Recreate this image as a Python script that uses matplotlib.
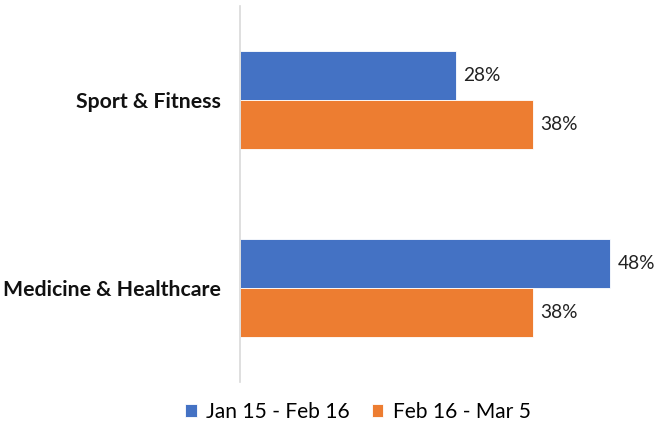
import matplotlib
matplotlib.use('Agg')
import matplotlib.pyplot as plt
import numpy as np

plt.rcParams['font.family'] = ['Lato', 'DejaVu Sans']

categories = ['Sport & Fitness', 'Medicine & Healthcare']
series_names = ['Jan 15 - Feb 16', 'Feb 16 - Mar 5']
jan_feb = [28, 48]
feb_mar = [38, 38]
colors = ['#4472C4', '#ED7D31']

fig = plt.figure(figsize=(6.56, 4.23), dpi=100)
ax = fig.add_axes([240/656, 1-382/423, 416/656, 376/423])

y = np.arange(len(categories))
h = 0.26
b1 = ax.barh(y - h/2, jan_feb, height=h, color=colors[0], edgecolor='white', linewidth=0.6, label=series_names[0])
b2 = ax.barh(y + h/2, feb_mar, height=h, color=colors[1], edgecolor='white', linewidth=0.6, label=series_names[1])

for bars in (b1, b2):
    for bar in bars:
        w = bar.get_width()
        ax.text(w + 1.0, bar.get_y() + bar.get_height()/2, '%d%%' % w,
                va='center', ha='left', fontsize=13.8, color='#222222')

ax.set_ylim(len(categories) - 0.5, -0.5)
ax.set_xlim(0, 54)
ax.set_yticks(y)
ax.set_yticklabels(categories, fontsize=15.3, fontweight='bold', color='#111111')
ax.set_xticks([])
ax.tick_params(axis='y', length=0, pad=14)
for s in ['top', 'right', 'bottom']:
    ax.spines[s].set_visible(False)
ax.spines['left'].set_color('#d9d9d9')
ax.spines['left'].set_linewidth(1.2)

fig.legend(handles=[b1, b2], labels=series_names, loc='center',
           bbox_to_anchor=(358/656, 1-412/423), ncol=2, frameon=False,
           fontsize=15.1, handlelength=0.55, handleheight=0.55,
           handletextpad=0.45, columnspacing=1.05)

fig.savefig('out.png', dpi=100)
